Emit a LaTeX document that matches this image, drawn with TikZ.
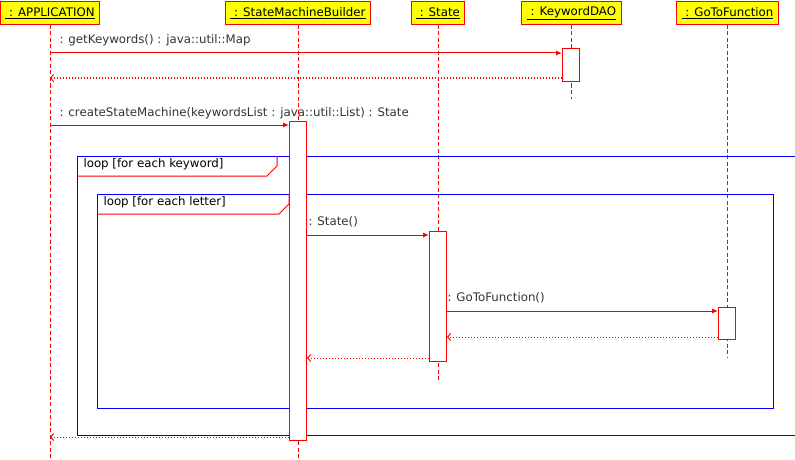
\documentclass[tikz,border=0pt]{standalone}
\usepackage{fontspec}
\setmainfont{DejaVu Sans}
\usetikzlibrary{arrows.meta}
\definecolor{jaune}{RGB}{255,255,0}
\definecolor{texte}{RGB}{51,51,51}
\begin{document}
\begin{tikzpicture}[x=1pt,y=-1pt,line width=1pt,font=\fontsize{11.8}{13}\selectfont]
%styles du diagramme de séquence
\tikzset{objet/.style={draw=red,fill=jaune,inner xsep=5pt,minimum height=23pt,anchor=north},
  vie/.style={red,dash pattern=on 4pt off 2.5pt}, %ligne de vie
  activ/.style={draw=red,fill=white,minimum width=17pt,inner sep=0pt},
  appel/.style={red,-{Latex[length=6pt,width=5pt]}},
  retour/.style={red,dash pattern=on 1pt off 2pt,-{Straight Barb[length=3pt,width=7pt]}},
  msg/.style={texte,anchor=base west,inner sep=0pt},
  cadre/.style={blue},onglet/.style={red}}
\useasboundingbox (0,0) rectangle (795,460);

%objets
\node[objet] (app) at (50,1) {\underline{\ : APPLICATION}};
\node[objet] (smb) at (298,1) {\underline{\ : StateMachineBuilder}};
\node[objet] (state) at (438,1) {\underline{\ : State}};
\node[objet] (dao) at (571.5,1) {\underline{\ : KeywordDAO}};
\node[objet] (gtf) at (727.5,1) {\underline{\ : GoToFunction}};

%lignes de vie
\coordinate (finapp) at (50,460);
\coordinate (finsmb) at (298,460);
\coordinate (finstate) at (438,381);
\coordinate (findao) at (571.5,99);
\coordinate (fingtf) at (727.5,358);
\draw[vie] (app) -- (finapp);
\draw[vie] (smb) -- (finsmb);
\draw[vie] (state) -- (finstate);
\draw[vie] (dao) -- (findao);
\draw[vie] (gtf) -- (fingtf);

%boucles
\draw[cadre] (795,156) -- (77,156) -- (77,435) -- (795,435);
\draw[onglet] (77,176) -- (267,176) -- (277,166) -- (277,156);
\node[anchor=base west,inner sep=0pt] (boucle1) at (83,167) {loop [for each keyword]};
\draw[cadre] (97,194) rectangle (773,408);
\draw[onglet] (97,214) -- (279,214) -- (289,204) -- (289,194);
\node[anchor=base west,inner sep=0pt] (boucle2) at (103,205) {loop [for each letter]};

%activations
\node[activ,minimum height=32pt] (daoact) at (571,65) {};
\node[activ,minimum height=319pt] (smbact) at (298,280.5) {};
\node[activ,minimum height=130pt] (stateact) at (438,296) {};
\node[activ,minimum height=32pt] (gtfact) at (727,323) {};

%messages
\draw[appel] (app |- 0,53) -- (daoact.west |- 0,53);
\node[msg] (m1) at (59,44) {: getKeywords() : java::util::Map};
\draw[retour] (daoact.west |- 0,78) -- (app |- 0,78);
\draw[appel] (app |- 0,125) -- (smbact.west |- 0,125);
\node[msg] (m2) at (59,116) {: createStateMachine(keywordsList : java::util::List) : State};
\draw[appel] (smbact.east |- 0,235) -- (stateact.west |- 0,235);
\node[msg] (m3) at (308,225) {: State()};
\draw[appel] (stateact.east |- 0,311) -- (gtfact.west |- 0,311);
\node[msg] (m4) at (447,301) {: GoToFunction()};
\draw[retour] (gtfact.west |- 0,337) -- (stateact.east |- 0,337);
\draw[retour] (stateact.west |- 0,358) -- (smbact.east |- 0,358);
\draw[retour] (smbact.west |- 0,437) -- (app |- 0,437);
\end{tikzpicture}
\end{document}
